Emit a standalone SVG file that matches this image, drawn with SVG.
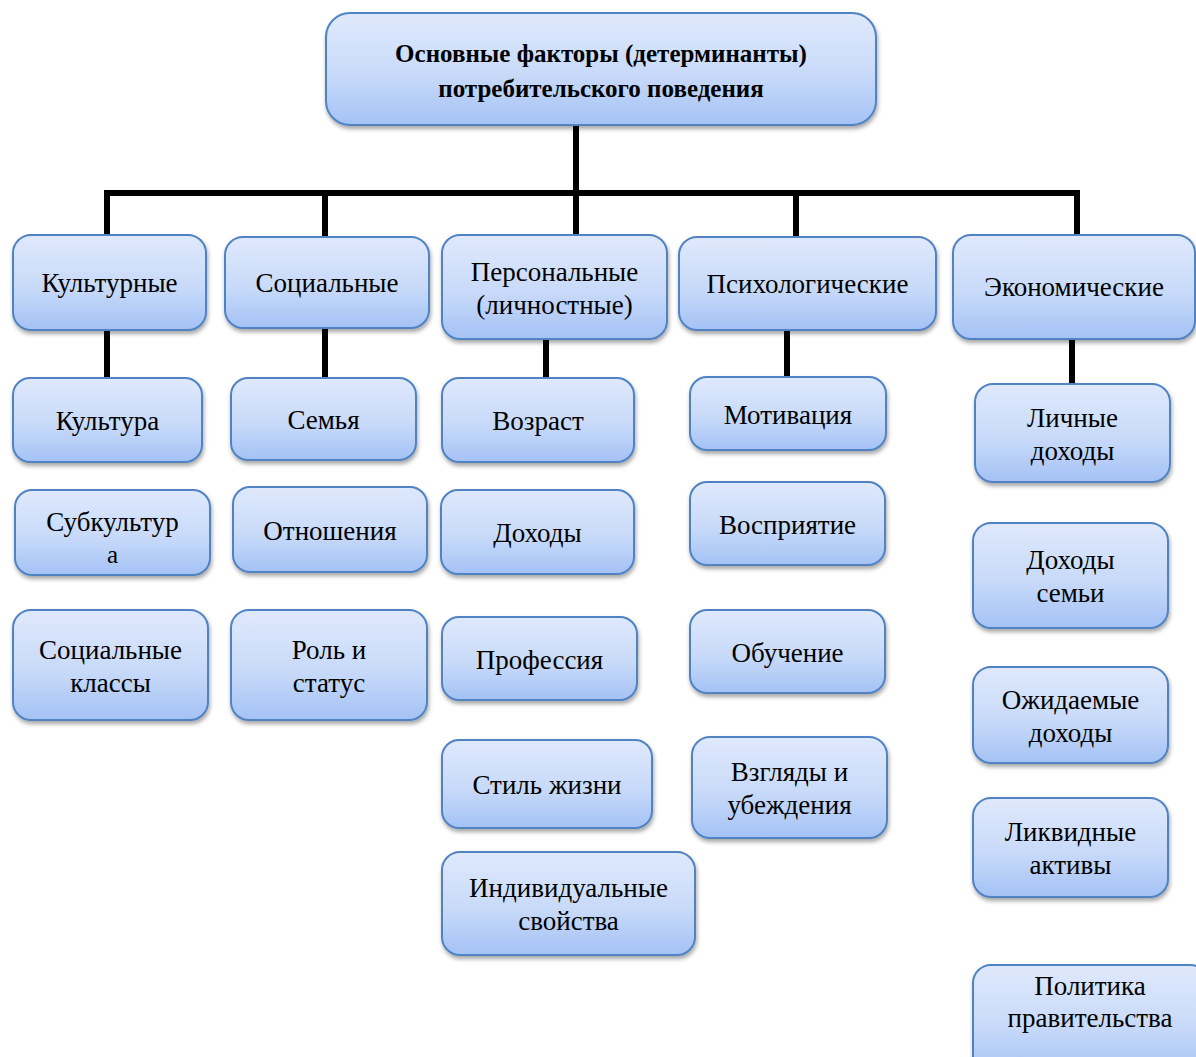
<svg xmlns="http://www.w3.org/2000/svg" width="1196" height="1057" viewBox="0 0 1196 1057" font-family="Liberation Serif, DejaVu Serif, serif">
<style>
.box{fill:url(#g);stroke:#5183c2;stroke-width:2;filter:url(#sh)}
text{font-family:'Liberation Serif',serif;font-size:27px;text-anchor:middle;fill:#000}
.b{font-weight:bold;font-size:25px}
.s{font-size:25px}
.c{stroke:#000;stroke-width:6;fill:none}
</style>
<defs>
<linearGradient id="g" x1="0" y1="0" x2="0" y2="1">
<stop offset="0" stop-color="#dfe9fc"/>
<stop offset="0.55" stop-color="#c8daf9"/>
<stop offset="1" stop-color="#a4c2f5"/>
</linearGradient>
<filter id="sh" x="-10%" y="-10%" width="120%" height="130%">
<feDropShadow dx="1" dy="3" stdDeviation="2.2" flood-color="#000" flood-opacity="0.35"/>
</filter>
</defs>
<g id="connectors">
<path class="c" d="M576 125V235"/>
<path class="c" d="M107 236V193H1077V235"/>
<path class="c" d="M325 193V237"/>
<path class="c" d="M796 193V237"/>
<path class="c" d="M107 330V378"/>
<path class="c" d="M325 328V378"/>
<path class="c" d="M546 339V377"/>
<path class="c" d="M787 330V377"/>
<path class="c" d="M1072 339V384"/>
</g>
<g id="root"><rect class="box" x="326" y="13" width="550" height="112" rx="24"/><text class="b" x="601" y="62">Основные факторы (детерминанты)</text><text class="b" x="601" y="97">потребительского поведения</text></g>
<g id="cult"><rect class="box" x="13" y="235" width="193" height="95" rx="18"/><text x="109.5" y="292">Культурные</text></g>
<g id="soc"><rect class="box" x="225" y="237" width="204" height="91" rx="18"/><text x="327" y="292">Социальные</text></g>
<g id="pers"><rect class="box" x="442" y="235" width="225" height="104" rx="18"/><text x="554.5" y="281">Персональные</text><text x="554.5" y="314">(личностные)</text></g>
<g id="psy"><rect class="box" x="679" y="237" width="257" height="93" rx="18"/><text x="807.5" y="293">Психологические</text></g>
<g id="econ"><rect class="box" x="953" y="235" width="242" height="104" rx="18"/><text x="1074" y="296">Экономические</text></g>
<g id="kultura"><rect class="box" x="13" y="378" width="189" height="84" rx="17"/><text x="107.5" y="430">Культура</text></g>
<g id="subkultura"><rect class="box" x="15" y="490" width="195" height="85" rx="17"/><text x="112.5" y="531">Субкультур</text><text class="s" x="112.5" y="563">а</text></g>
<g id="klassy"><rect class="box" x="13" y="610" width="195" height="110" rx="18"/><text x="110.5" y="659">Социальные</text><text x="110.5" y="692">классы</text></g>
<g id="semya"><rect class="box" x="231" y="378" width="185" height="82" rx="17"/><text x="323.5" y="429">Семья</text></g>
<g id="otnosheniya"><rect class="box" x="233" y="487" width="194" height="85" rx="17"/><text x="330" y="540">Отношения</text></g>
<g id="rol"><rect class="box" x="231" y="610" width="196" height="110" rx="18"/><text x="329" y="659">Роль и</text><text x="329" y="692">статус</text></g>
<g id="vozrast"><rect class="box" x="442" y="378" width="192" height="84" rx="17"/><text x="538" y="430">Возраст</text></g>
<g id="dohody"><rect class="box" x="441" y="490" width="193" height="84" rx="17"/><text x="537.5" y="542">Доходы</text></g>
<g id="professiya"><rect class="box" x="442" y="617" width="195" height="83" rx="17"/><text x="539.5" y="669">Профессия</text></g>
<g id="stil"><rect class="box" x="442" y="740" width="210" height="88" rx="17"/><text x="547" y="794">Стиль жизни</text></g>
<g id="individ"><rect class="box" x="442" y="852" width="253" height="103" rx="18"/><text x="568.5" y="897">Индивидуальные</text><text x="568.5" y="930">свойства</text></g>
<g id="motivaciya"><rect class="box" x="690" y="377" width="196" height="73" rx="17"/><text x="788" y="424">Мотивация</text></g>
<g id="vospriyatie"><rect class="box" x="690" y="482" width="195" height="83" rx="17"/><text x="787.5" y="534">Восприятие</text></g>
<g id="obuchenie"><rect class="box" x="690" y="610" width="195" height="83" rx="17"/><text x="787.5" y="662">Обучение</text></g>
<g id="vzglyady"><rect class="box" x="692" y="737" width="195" height="101" rx="18"/><text x="789.5" y="781">Взгляды и</text><text x="789.5" y="814">убеждения</text></g>
<g id="lichnye"><rect class="box" x="975" y="384" width="195" height="98" rx="18"/><text x="1072.5" y="427">Личные</text><text x="1072.5" y="460">доходы</text></g>
<g id="semi"><rect class="box" x="973" y="523" width="195" height="105" rx="18"/><text x="1070.5" y="569">Доходы</text><text x="1070.5" y="602">семьи</text></g>
<g id="ozhidaemye"><rect class="box" x="973" y="667" width="195" height="96" rx="18"/><text x="1070.5" y="709">Ожидаемые</text><text x="1070.5" y="742">доходы</text></g>
<g id="likvidnye"><rect class="box" x="973" y="798" width="195" height="99" rx="18"/><text x="1070.5" y="841">Ликвидные</text><text x="1070.5" y="874">активы</text></g>
<g id="politika"><rect class="box" x="973" y="965" width="235" height="110" rx="18"/><text x="1090" y="995">Политика</text><text x="1090" y="1027">правительства</text></g>
</svg>
